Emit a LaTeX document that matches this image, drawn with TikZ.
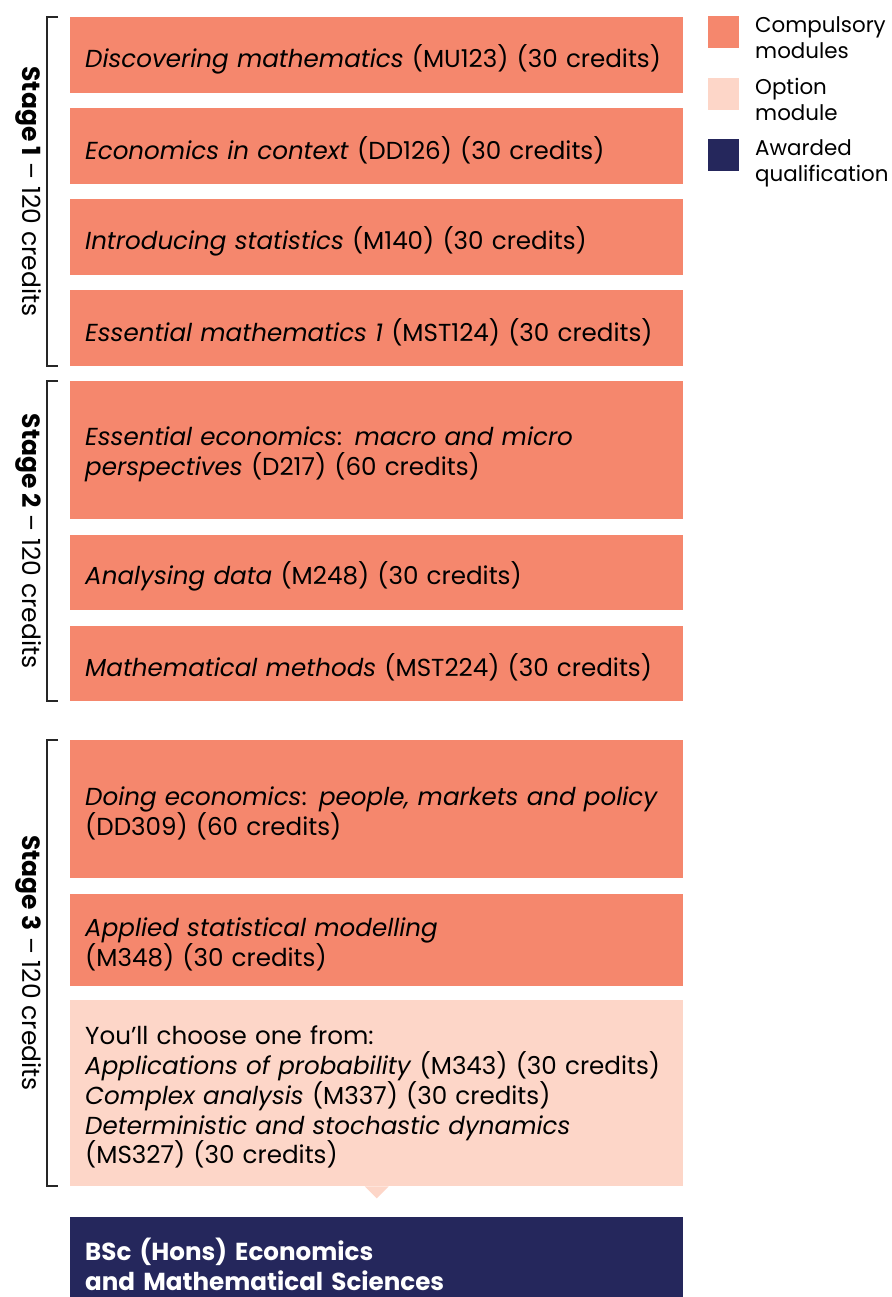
\documentclass[tikz,border=0pt]{standalone}
\usepackage{fontspec}
\setmainfont{Poppins}
\usetikzlibrary{calc}
\definecolor{compcol}{HTML}{F5876D}
\definecolor{optcol}{HTML}{FDD6C8}
\definecolor{navycol}{HTML}{25275C}
\tikzset{
  modbox/.style={fill=compcol, anchor=north west, minimum width=613pt, inner sep=0pt},
  optbox/.style={modbox, fill=optcol},
  quabox/.style={modbox, fill=navycol},
  modtxt/.style={anchor=west, text width=590pt, inner sep=0pt, align=left, font=\fontsize{24.6}{29.8}\selectfont},
  quatxt/.style={modtxt, text=white, font=\fontsize{24.6}{29.8}\selectfont\bfseries},
  bracket/.style={draw=black!85, line width=1.3pt},
  stagelabel/.style={rotate=-90, font=\fontsize{25}{28}\selectfont},
  legsq/.style={anchor=north west, minimum width=31pt, minimum height=32pt, inner sep=0pt},
  legtxt/.style={anchor=north west, align=left, inner sep=0pt, font=\fontsize{21.4}{26}\selectfont}
}
\begin{document}
\begin{tikzpicture}[x=1pt,y=-1pt]
\useasboundingbox (0,0) rectangle (891,1297);
% Stage 1
\node[modbox, minimum height=76pt] (m1) at (70,17) {};
\node[modbox, minimum height=76pt] (m2) at (70,108) {};
\node[modbox, minimum height=76pt] (m3) at (70,199) {};
\node[modbox, minimum height=76pt] (m4) at (70,290) {};
% Stage 2
\node[modbox, minimum height=138pt] (m5) at (70,381) {};
\node[modbox, minimum height=75pt] (m6) at (70,535) {};
\node[modbox, minimum height=75pt] (m7) at (70,626) {};
% Stage 3
\node[modbox, minimum height=138pt] (m8) at (70,740) {};
\node[modbox, minimum height=92pt] (m9) at (70,894) {};
\node[optbox, minimum height=186pt] (m10) at (70,1000) {};
\fill[optcol] ($(m10.south)+(-12,0)$) -- ($(m10.south)+(0,12)$) -- ($(m10.south)+(12,0)$) -- cycle;
% Qualification
\node[quabox, minimum height=80pt] (q) at (70,1217) {};
% Texts
\node[modtxt] (m1t) at ($(m1.west)+(15,4)$) {\textit{Discovering mathematics} (MU123) (30 credits)};
\node[modtxt] (m2t) at ($(m2.west)+(15,4)$) {\textit{Economics in context} (DD126) (30 credits)};
\node[modtxt] (m3t) at ($(m3.west)+(15,4)$) {\textit{Introducing statistics} (M140) (30 credits)};
\node[modtxt] (m4t) at ($(m4.west)+(15,4)$) {\textit{Essential mathematics 1} (MST124) (30 credits)};
\node[modtxt] (m5t) at ($(m5.west)+(15,4)$) {\textit{Essential economics}: \textit{macro and micro}\\\textit{perspectives} (D217) (60 credits)};
\node[modtxt] (m6t) at ($(m6.west)+(15,4)$) {\textit{Analysing data} (M248) (30 credits)};
\node[modtxt] (m7t) at ($(m7.west)+(15,4)$) {\textit{Mathematical methods} (MST224) (30 credits)};
\node[modtxt] (m8t) at ($(m8.west)+(15,4)$) {\textit{Doing economics}: \textit{people, markets and policy}\\(DD309) (60 credits)};
\node[modtxt] (m9t) at ($(m9.west)+(15,4)$) {\textit{Applied statistical modelling}\\(M348) (30 credits)};
\node[modtxt] (m10t) at ($(m10.west)+(15,4)$) {You’ll choose one from:\\\textit{Applications of probability} (M343) (30 credits)\\\textit{Complex analysis} (M337) (30 credits)\\\textit{Deterministic and stochastic dynamics}\\(MS327) (30 credits)};
\node[quatxt] (qt) at ($(q.north west)+(15,47)$) {BSc (Hons) Economics\\and Mathematical Sciences};
% Brackets
\coordinate (b1t) at (47,17); \coordinate (b1b) at (47,366);
\coordinate (b2t) at (47,381); \coordinate (b2b) at (47,701);
\coordinate (b3t) at (47,740); \coordinate (b3b) at (47,1186);
\draw[bracket] ($(b1t)+(11,0)$) -- (b1t) -- (b1b) -- ($(b1b)+(11,0)$);
\draw[bracket] ($(b2t)+(11,0)$) -- (b2t) -- (b2b) -- ($(b2b)+(11,0)$);
\draw[bracket] ($(b3t)+(11,0)$) -- (b3t) -- (b3b) -- ($(b3b)+(11,0)$);
\node[stagelabel] (s1) at (29,191.5) {\textbf{Stage 1} – 120 credits};
\node[stagelabel] (s2) at (29,541) {\textbf{Stage 2} – 120 credits};
\node[stagelabel] (s3) at (29,963) {\textbf{Stage 3} – 120 credits};
% Legend
\node[legsq, fill=compcol] (l1) at (708,16) {};
\node[legsq, fill=optcol] (l2) at (708,78) {};
\node[legsq, fill=navycol] (l3) at (708,139) {};
\node[legtxt] (t1) at (755,16) {Compulsory\\modules};
\node[legtxt] (t2) at (755,78) {Option\\module};
\node[legtxt] (t3) at (755,139) {Awarded\\qualification};
\end{tikzpicture}
\end{document}
